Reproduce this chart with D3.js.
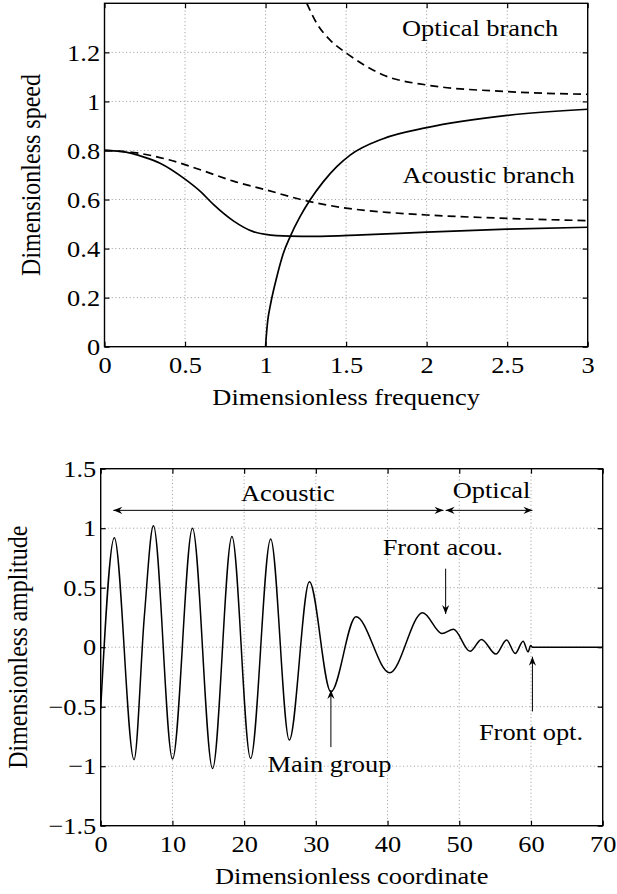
<!DOCTYPE html>
<html>
<head>
<meta charset="utf-8">
<script src="https://cdn.jsdelivr.net/npm/d3@7"></script>
<style>
body { margin: 0; background: #fff; }
svg { display: block; font-family: "Liberation Serif", "Times New Roman", serif; }
</style>
</head>
<body>
<svg id="chart" width="617" height="894"></svg>
<script>
// ---- upper panel: speed vs frequency ----
var acGroupFreq  = [0, 0.1, 0.25, 0.345, 0.5, 0.6, 0.676, 0.8, 0.924, 1.0, 1.15, 1.3, 1.6, 2.0, 2.5, 3.0];
var acGroupSpeed = [0.8, 0.796, 0.772, 0.748, 0.683, 0.63, 0.58, 0.513, 0.469, 0.458, 0.451, 0.450, 0.456, 0.467, 0.479, 0.487];

var acPhaseFreq  = [0, 0.2, 0.4, 0.6, 0.8, 1.0, 1.25, 1.5, 1.75, 2.0, 2.5, 3.0];
var acPhaseSpeed = [0.8, 0.79, 0.762, 0.72, 0.675, 0.64, 0.595, 0.565, 0.548, 0.537, 0.523, 0.514];

var opGroupFreq  = [1.0, 1.003, 1.006, 1.014, 1.028, 1.07, 1.11, 1.152, 1.214, 1.276, 1.359, 1.442, 1.525, 1.73, 2.0, 2.5, 3.0];
var opGroupSpeed = [0, 0.03, 0.054, 0.109, 0.163, 0.285, 0.38, 0.448, 0.53, 0.598, 0.673, 0.734, 0.781, 0.848, 0.893, 0.943, 0.968];

var opPhaseFreq  = [1.256, 1.318, 1.401, 1.504, 1.73, 2.0, 2.5, 3.0];
var opPhaseSpeed = [1.40, 1.318, 1.25, 1.196, 1.108, 1.067, 1.04, 1.029];

var freqTicks  = [0, 0.5, 1, 1.5, 2, 2.5, 3];
var speedTicks = [0, 0.2, 0.4, 0.6, 0.8, 1, 1.2];

// ---- lower panel: amplitude vs coordinate ----
var waveX = [0, 1.9, 4.65, 6.08, 7.35, 10.02, 12.8, 15.6, 18.3, 20.9, 23.7, 26.3, 29.1, 32.1, 35.6, 40.3, 44.9,
             47.6, 49.2, 51.5, 53.1, 55.1, 56.6, 57.8, 58.9, 59.6, 59.95, 60.2, 70];
var waveY = [-0.52, 0.92, -0.945, 0.255, 1.02, -0.94, 1.0, -1.02, 0.93, -0.935, 0.91, -0.78, 0.55, -0.375, 0.255, -0.215, 0.29,
             0.115, 0.15, -0.035, 0.065, -0.058, 0.06, -0.053, 0.05, -0.04, 0.015, 0, 0];

var coordTicks = [0, 10, 20, 30, 40, 50, 60, 70];
var ampTicks   = [-1.5, -1, -0.5, 0, 0.5, 1, 1.5];

var svg = d3.select('#chart');
var sx = 1.1;   // type in the picture is a little wide
var fmt = d3.format('');

function label(g, x, y, s, anchor, rot) {
  return g.append('text')
    .attr('transform', 'translate(' + x + ',' + y + ')' + (rot ? ' rotate(-90) scale(1,' + sx + ')' : ' scale(' + sx + ',1)'))
    .attr('text-anchor', anchor || 'middle')
    .attr('font-size', 24)
    .attr('fill', '#000')
    .text(s);
}

function panel(o) {
  var x = d3.scaleLinear().domain(o.xDomain).range([o.left, o.right]);
  var y = d3.scaleLinear().domain(o.yDomain).range([o.bottom, o.top]);
  var g = svg.append('g');

  var grid = g.append('g').attr('stroke', '#999').attr('stroke-width', 1).attr('stroke-dasharray', '1,2.6');
  grid.selectAll('.gx').data(o.xTicks.slice(1, -1)).enter().append('line')
      .attr('x1', d => x(d)).attr('x2', d => x(d)).attr('y1', o.top).attr('y2', o.bottom);
  grid.selectAll('.gy').data(o.yTicks.filter(d => d > o.yDomain[0] && d < o.yDomain[1])).enter().append('line')
      .attr('y1', d => y(d)).attr('y2', d => y(d)).attr('x1', o.left).attr('x2', o.right);

  var axes = [
    [d3.axisBottom(x).tickValues(o.xTicks).tickFormat(fmt), 'translate(0,' + o.bottom + ')'],
    [d3.axisTop(x).tickValues(o.xTicks).tickFormat(''), 'translate(0,' + o.top + ')'],
    [d3.axisLeft(y).tickValues(o.yTicks).tickFormat(fmt), 'translate(' + o.left + ',0)'],
    [d3.axisRight(y).tickValues(o.yTicks).tickFormat(''), 'translate(' + o.right + ',0)']
  ];
  axes.forEach(function(a) {
    var ax = g.append('g').attr('transform', a[1])
      .call(a[0].tickSizeInner(-5).tickSizeOuter(0).tickPadding(a === axes[2] ? 4 : 9));
    ax.select('.domain').remove();
    ax.attr('font-family', null).attr('font-size', 24);
    ax.selectAll('line').attr('stroke', '#000').attr('stroke-width', 1.2);
    ax.selectAll('text').attr('fill', '#000').attr('transform', 'scale(' + sx + ',1)');
  });

  g.append('rect').attr('x', o.left).attr('y', o.top)
    .attr('width', o.right - o.left).attr('height', o.bottom - o.top)
    .attr('fill', 'none').attr('stroke', '#000').attr('stroke-width', 1.4);

  label(g, (o.left + o.right) / 2, o.xLabelY, o.xLabel);
  label(g, o.yLabelX, (o.top + o.bottom) / 2, o.yLabel, 'middle', true);

  var clipId = 'clip' + o.id;
  svg.append('clipPath').attr('id', clipId).append('rect')
    .attr('x', o.left).attr('y', o.top).attr('width', o.right - o.left).attr('height', o.bottom - o.top);
  var plot = g.append('g').attr('clip-path', 'url(#' + clipId + ')');

  return { x: x, y: y, g: g, plot: plot };
}

// ---- upper panel ----
var p1 = panel({
  id: 1, left: 104.5, right: 587.7, top: 3.3, bottom: 346.7,
  xDomain: [0, 3], yDomain: [0, 1.4], xTicks: freqTicks, yTicks: speedTicks,
  xLabel: 'Dimensionless frequency', xLabelY: 405,
  yLabel: 'Dimensionless speed', yLabelX: 39.5
});

var line1 = d3.line().x(d => p1.x(d[0])).y(d => p1.y(d[1])).curve(d3.curveMonotoneX);
[
  [acGroupFreq, acGroupSpeed, null],
  [acPhaseFreq, acPhaseSpeed, '8,5'],
  [opGroupFreq, opGroupSpeed, null],
  [opPhaseFreq, opPhaseSpeed, '8,5']
].forEach(function(s) {
  p1.plot.append('path')
    .datum(d3.zip(s[0], s[1]))
    .attr('d', line1)
    .attr('fill', 'none')
    .attr('stroke', '#000')
    .attr('stroke-width', 1.7)
    .attr('stroke-dasharray', s[2]);
});

label(p1.g, p1.x(2.332), p1.y(1.266), 'Optical branch');
label(p1.g, p1.x(2.384), p1.y(0.669), 'Acoustic branch');

// ---- lower panel ----
var p2 = panel({
  id: 2, left: 100.7, right: 602.7, top: 468.7, bottom: 825.7,
  xDomain: [0, 70], yDomain: [-1.5, 1.5], xTicks: coordTicks, yTicks: ampTicks,
  xLabel: 'Dimensionless coordinate', xLabelY: 884,
  yLabel: 'Dimensionless amplitude', yLabelX: 26.5
});

var line2 = d3.line().x(d => p2.x(d[0])).y(d => p2.y(d[1])).curve(d3.curveMonotoneX);
p2.plot.append('path')
  .datum(d3.zip(waveX, waveY))
  .attr('d', line2)
  .attr('fill', 'none')
  .attr('stroke', '#000')
  .attr('stroke-width', 1.5);

// arrowheads
var defs = svg.append('defs');
defs.append('marker').attr('id', 'head')
  .attr('viewBox', '-10 -5 11 10').attr('refX', 0).attr('refY', 0)
  .attr('markerWidth', 11).attr('markerHeight', 10)
  .attr('markerUnits', 'userSpaceOnUse').attr('orient', 'auto-start-reverse')
  .append('path').attr('d', 'M0,0 L-9,-3.6 L-6,0 L-9,3.6 Z').attr('fill', '#000');

function arrow(x1, y1, x2, y2, both) {
  var l = p2.g.append('line')
    .attr('x1', p2.x(x1)).attr('y1', p2.y(y1)).attr('x2', p2.x(x2)).attr('y2', p2.y(y2))
    .attr('stroke', '#000').attr('stroke-width', 1)
    .attr('marker-end', 'url(#head)');
  if (both) l.attr('marker-start', 'url(#head)');
}

arrow(1.76, 1.15, 47.8, 1.15, true);
arrow(48.1, 1.15, 60.2, 1.15, true);
arrow(48.1, 0.66, 48.1, 0.28);
arrow(32.1, -0.84, 32.1, -0.36);
arrow(60.2, -0.54, 60.2, -0.08);

label(p2.g, p2.x(26.1), p2.y(1.23), 'Acoustic');
label(p2.g, p2.x(54.5), p2.y(1.25), 'Optical');
label(p2.g, p2.x(47.7), p2.y(0.773), 'Front acou.');
label(p2.g, p2.x(31.9), p2.y(-1.05), 'Main group');
label(p2.g, p2.x(60.0), p2.y(-0.776), 'Front opt.');
</script>
</body>
</html>
